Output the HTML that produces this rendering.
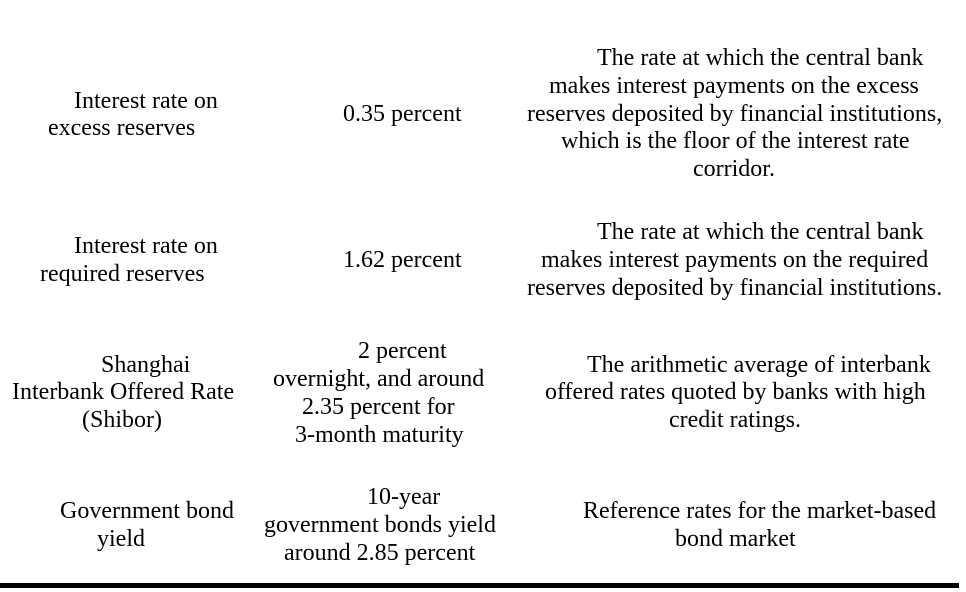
<!DOCTYPE html>
<html><head><meta charset="utf-8"><style>
html,body{margin:0;padding:0;background:#fff;}
body{width:966px;height:592px;position:relative;overflow:hidden;font-family:"Liberation Serif",serif;font-size:24px;color:#000;}
.l{position:absolute;white-space:nowrap;line-height:28px;height:28px;}
.rule{position:absolute;left:0;top:583px;width:959px;height:5px;background:#000;}
</style></head><body>
<div>
<div class="l" style="left:74px;top:87px">Interest rate on</div>
<div class="l" style="left:48px;top:114px">excess reserves</div>
<div class="l" style="left:343px;top:100px">0.35 percent</div>
<div class="l" style="left:597px;top:44px">The rate at which the central bank</div>
<div class="l" style="left:549px;top:72px">makes interest payments on the excess</div>
<div class="l" style="left:527px;top:100px">reserves deposited by financial institutions,</div>
<div class="l" style="left:561px;top:127px">which is the floor of the interest rate</div>
<div class="l" style="left:693px;top:155px">corridor.</div>
</div>
<div>
<div class="l" style="left:74px;top:232px">Interest rate on</div>
<div class="l" style="left:40px;top:260px">required reserves</div>
<div class="l" style="left:343px;top:246px">1.62 percent</div>
<div class="l" style="left:597px;top:218px">The rate at which the central bank</div>
<div class="l" style="left:541px;top:246px">makes interest payments on the required</div>
<div class="l" style="left:527px;top:274px">reserves deposited by financial institutions.</div>
</div>
<div>
<div class="l" style="left:101px;top:351px">Shanghai</div>
<div class="l" style="left:12px;top:378px">Interbank Offered Rate</div>
<div class="l" style="left:82px;top:406px">(Shibor)</div>
<div class="l" style="left:358px;top:337px">2 percent</div>
<div class="l" style="left:273px;top:365px">overnight, and around</div>
<div class="l" style="left:302px;top:393px">2.35 percent for</div>
<div class="l" style="left:295px;top:421px">3-month maturity</div>
<div class="l" style="left:587px;top:351px">The arithmetic average of interbank</div>
<div class="l" style="left:545px;top:378px">offered rates quoted by banks with high</div>
<div class="l" style="left:669px;top:406px">credit ratings.</div>
</div>
<div>
<div class="l" style="left:60px;top:497px">Government bond</div>
<div class="l" style="left:97px;top:525px">yield</div>
<div class="l" style="left:367px;top:483px">10-year</div>
<div class="l" style="left:264px;top:511px">government bonds yield</div>
<div class="l" style="left:284px;top:539px">around 2.85 percent</div>
<div class="l" style="left:583px;top:497px">Reference rates for the market-based</div>
<div class="l" style="left:675px;top:525px">bond market</div>
</div>
<div class="rule"></div>
</body></html>
